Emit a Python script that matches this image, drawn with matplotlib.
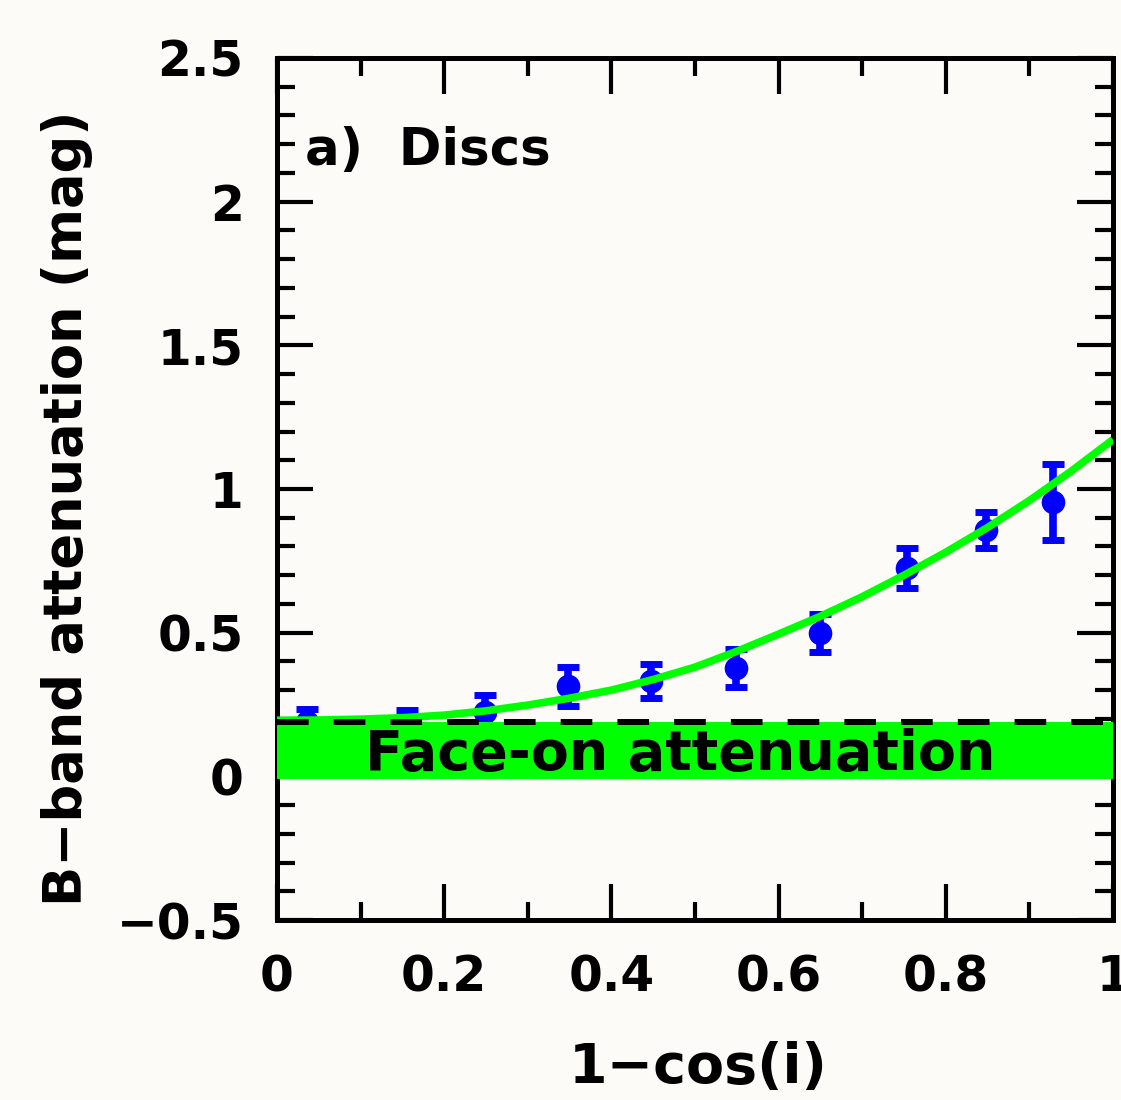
import numpy as np
from matplotlib import pyplot as plt
from matplotlib.ticker import MultipleLocator, FixedLocator, FixedFormatter

# measured points (1-cos i, attenuation, error)
x_pts = [0.036, 0.155, 0.249, 0.348, 0.447, 0.549, 0.649, 0.753, 0.848, 0.928]
y_pts = [0.19, 0.19, 0.224, 0.313, 0.331, 0.377, 0.498, 0.725, 0.857, 0.955]
y_err = [0.045, 0.04, 0.058, 0.067, 0.06, 0.067, 0.066, 0.07, 0.062, 0.132]

# fitted curve
x_fit = [0.0, 0.05, 0.1, 0.15, 0.2, 0.25, 0.3, 0.35, 0.4, 0.45, 0.5,
         0.55, 0.6, 0.65, 0.7, 0.75, 0.8, 0.85, 0.9, 0.95, 1.0]
y_fit = [0.195, 0.196, 0.199, 0.204, 0.213, 0.228, 0.248, 0.272, 0.300, 0.337, 0.380,
         0.435, 0.495, 0.557, 0.625, 0.700, 0.780, 0.866, 0.960, 1.062, 1.172]

# face-on band
band_lo = -0.01
band_hi = 0.19

xticks = [0, 0.2, 0.4, 0.6, 0.8, 1.0]
xtick_labels = ["0", "0.2", "0.4", "0.6", "0.8", "1"]
yticks = [-0.5, 0, 0.5, 1.0, 1.5, 2.0, 2.5]
ytick_labels = ["\u22120.5", "0", "0.5", "1", "1.5", "2", "2.5"]

bg = "#fcfbf7"
plt.rcParams['font.family'] = ['DejaVu Sans']
plt.rcParams['font.weight'] = 'bold'

fig = plt.figure(figsize=(11.21, 11.0), dpi=100, facecolor=bg)
ax = fig.add_axes([277/1121, 1-920/1100, 836/1121, 862/1100])
ax.set_facecolor(bg)

ax.errorbar(x_pts, y_pts, yerr=y_err, fmt='o', color='#0000ff', ms=16,
            elinewidth=5.5, capsize=8, capthick=5, zorder=2)
ax.axhspan(band_lo, band_hi, color='#00ff00', lw=0, zorder=3)
ax.plot(x_fit, y_fit, color='#00ff00', lw=5.5, zorder=4, solid_capstyle='butt')
ax.axhline(band_hi, color='black', lw=4.3, ls=(0, (5.3, 4.2)), zorder=5)

ax.text(0.482, 0.021, "Face-on attenuation", fontsize=40, fontweight='bold',
        ha='center', va='baseline', zorder=6)
ax.text(0.0335, 2.127, "a)  Discs", fontsize=37, fontweight='bold',
        ha='left', va='baseline', zorder=6)

ax.set_xlim(0, 1)
ax.set_ylim(-0.5, 2.5)
ax.xaxis.set_major_locator(FixedLocator(xticks))
ax.xaxis.set_major_formatter(FixedFormatter(xtick_labels))
ax.xaxis.set_minor_locator(MultipleLocator(0.1))
ax.yaxis.set_major_locator(FixedLocator(yticks))
ax.yaxis.set_major_formatter(FixedFormatter(ytick_labels))
ax.yaxis.set_minor_locator(MultipleLocator(0.1))

ax.tick_params(which='both', direction='in', top=True, right=True, colors='black')
ax.tick_params(which='major', length=26, width=3, labelsize=35, pad=24)
ax.tick_params(which='minor', length=13, width=3)
for s in ax.spines.values():
    s.set_linewidth(3.6)

fig.text(67/1121, 1-508/1100, "B\u2212band attenuation (mag)", rotation=90,
         fontsize=38, fontweight='bold', ha='center', va='center')
fig.text(698/1121, 1-1068/1100, "1\u2212cos(i)", fontsize=40, fontweight='bold',
         ha='center', va='center')

plt.savefig("out.png", dpi=100, facecolor=bg)
